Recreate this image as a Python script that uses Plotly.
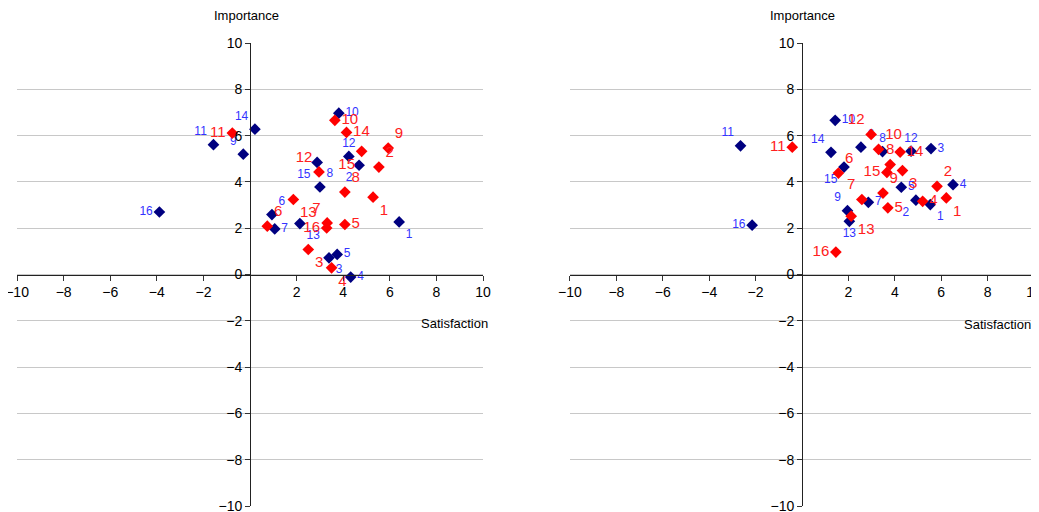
import plotly.graph_objects as go

labels = [str(i) for i in range(1, 17)]

# Left chart
left_blue_x = [6.40, 4.68, 3.39, 4.32, 3.74, 0.94, 1.06, 3.00, -0.29, 3.81, -1.57, 4.24, 2.14, 0.21, 2.88, -3.89]
left_blue_y = [2.27, 4.72, 0.72, -0.11, 0.87, 2.59, 1.97, 3.78, 5.20, 6.97, 5.61, 5.10, 2.20, 6.28, 4.84, 2.70]
left_red_x = [5.28, 5.53, 2.50, 3.50, 4.07, 0.74, 3.31, 4.07, 5.93, 3.64, -0.76, 2.96, 1.86, 4.14, 4.79, 3.29]
left_red_y = [3.34, 4.64, 1.08, 0.29, 2.16, 2.09, 2.23, 3.56, 5.46, 6.66, 6.11, 4.43, 3.24, 6.14, 5.32, 2.01]

# Right chart
right_blue_x = [5.53, 4.91, 5.56, 6.51, 4.28, 2.54, 2.86, 3.47, 1.96, 1.43, -2.65, 4.70, 2.04, 1.25, 1.81, -2.15]
right_blue_y = [3.02, 3.21, 5.44, 3.88, 3.77, 5.50, 3.12, 5.31, 2.76, 6.66, 5.56, 5.33, 2.30, 5.28, 4.64, 2.13]
right_red_x = [6.22, 5.82, 4.33, 5.20, 3.70, 1.57, 2.58, 3.80, 3.49, 3.30, -0.42, 2.98, 2.12, 4.23, 3.66, 1.46]
right_red_y = [3.31, 3.81, 4.49, 3.16, 2.88, 4.38, 3.24, 4.75, 3.52, 5.41, 5.50, 6.05, 2.52, 5.29, 4.41, 0.97]

tick_vals_x = [-10, -8, -6, -4, -2, 2, 4, 6, 8, 10]
tick_vals_y = [-10, -8, -6, -4, -2, 0, 2, 4, 6, 8, 10]

# label placement
lb_pos = ["bottom right", "bottom left", "bottom right", "middle right", "middle right", "top right",
          "middle right", "top right", "top left", "middle right", "top left", "top center",
          "bottom right", "top left", "bottom left", "middle left"]
lr_pos = ["bottom right", "top right", "bottom right", "bottom right", "middle right", "top right",
          "top left", "top right", "top right", "middle right", "middle left", "top left",
          "bottom right", "middle right", "bottom left", "middle left"]
rb_pos = ["bottom right", "bottom left", "middle right", "middle right", "middle right", "top right",
          "middle right", "top center", "top left", "middle right", "top left", "top center",
          "bottom center", "top left", "bottom left", "middle left"]
rr_pos = ["bottom right", "top right", "bottom right", "middle right", "middle right", "top right",
          "top left", "top center", "top right", "top right", "middle left", "top left",
          "bottom right", "middle right", "middle left", "middle left"]

NAVY = "#000080"
RED = "#FF0000"
BLUE_TXT = "#3333FF"
RED_TXT = "#FF2020"
FONT = "Liberation Sans, Arial, sans-serif"
NARROW = "Liberation Sans Narrow, Liberation Sans, Arial, sans-serif"

fig = go.Figure()

def add(xs, ys, pos, color, tcolor, tsize, xa, ya):
    fig.add_trace(go.Scatter(
        x=xs, y=ys, mode="markers+text", text=labels, textposition=pos,
        marker=dict(symbol="diamond", size=9, color=color),
        textfont=dict(family=FONT, size=tsize, color=tcolor),
        cliponaxis=False, showlegend=False, xaxis=xa, yaxis=ya, hoverinfo="skip"))

add(left_blue_x, left_blue_y, lb_pos, NAVY, BLUE_TXT, 12, "x", "y")
add(left_red_x, left_red_y, lr_pos, RED, RED_TXT, 15, "x", "y")
add(right_blue_x, right_blue_y, rb_pos, NAVY, BLUE_TXT, 12, "x2", "y2")
add(right_red_x, right_red_y, rr_pos, RED, RED_TXT, 15, "x2", "y2")

ydom = [0.0273, 0.9316]
ymid = (ydom[0] + ydom[1]) / 2
xdom1 = [0.0087, 0.4572]
xdom2 = [0.5409, 0.9875]

def xaxis(dom):
    return dict(domain=dom, range=[-10, 10], anchor="free", position=ymid, automargin=False,
                tickvals=tick_vals_x, ticks="outside", ticklen=5, tickcolor="#333",
                showline=True, linecolor="#222", linewidth=1, showgrid=False, zeroline=False,
                ticklabeloverflow="allow",
                tickfont=dict(family=FONT, size=14, color="#000"), fixedrange=True)

def yaxis(pos):
    return dict(domain=ydom, range=[-10, 10], anchor="free", position=pos, automargin=False,
                tickvals=tick_vals_y, ticks="outside", ticklen=5, tickcolor="#333",
                showline=True, linecolor="#222", linewidth=1, showgrid=True,
                gridcolor="#c8c8c8", gridwidth=1, zeroline=False,
                ticklabeloverflow="allow",
                tickfont=dict(family=FONT, size=14, color="#000"), fixedrange=True)

def title(text, x, y):
    return dict(text=text, x=x, y=y, xref="paper", yref="paper", showarrow=False,
                xanchor="center", yanchor="middle",
                font=dict(family=NARROW, size=13, color="#000"))

fig.update_layout(
    width=1039, height=512,
    margin=dict(l=0, r=0, t=0, b=0, autoexpand=False),
    paper_bgcolor="white", plot_bgcolor="white",
    xaxis=xaxis(xdom1), yaxis=yaxis((xdom1[0] + xdom1[1]) / 2),
    xaxis2=xaxis(xdom2), yaxis2=yaxis((xdom2[0] + xdom2[1]) / 2),
    annotations=[
        title("Importance", 0.230, 0.986),
        title("Importance", 0.765, 0.986),
        title("Satisfaction", 0.430, 0.383),
        title("Satisfaction", 0.9525, 0.381),
    ],
)

fig.write_html("out.html")
